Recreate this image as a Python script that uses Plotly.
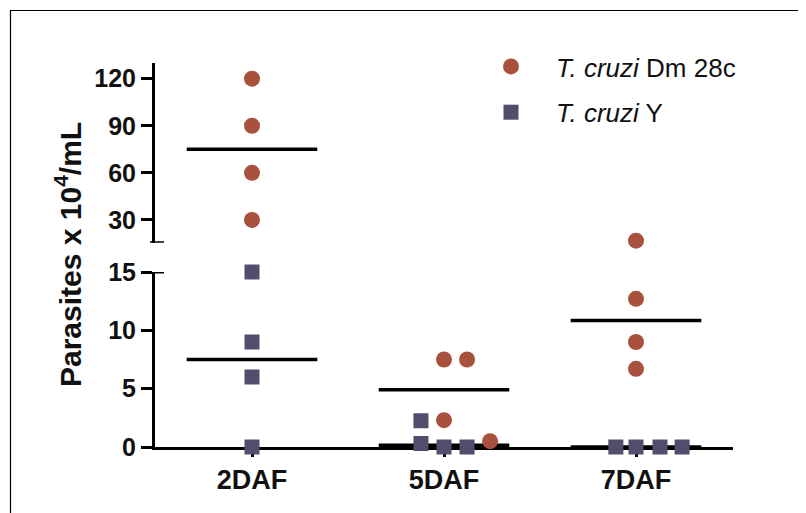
import numpy as np
import plotly.graph_objects as go

# ---------------- data ----------------
categories = ["2DAF", "5DAF", "7DAF"]

dm28c_name = "<i>T. cruzi</i> Dm 28c"
dm28c_values = [[120, 90, 60, 30], [7.5, 7.5, 2.3, 0.5], [16.8, 12.7, 9.0, 6.7]]
dm28c_jitter = [[0, 0, 0, 0], [0, 0.12, 0, 0.24], [0, 0, 0, 0]]

y_name = "<i>T. cruzi</i> Y"
y_values = [[15, 9, 6, 0], [2.25, 0.3, 0, 0], [0, 0, 0, 0]]
y_jitter = [[0, 0, 0, 0], [-0.12, -0.12, 0, 0.12], [-0.105, 0, 0.125, 0.24]]

lower_ticks = [0, 5, 10, 15]
upper_ticks = [30, 60, 90, 120]
break_value = 15          # values above this go on the upper segment
lower_range = [0, 15]
upper_range = [15.5, 130]

# ---------------- styles ----------------
RED = "#A8523E"
PURPLE = "#534C6C"
FONT = "Arial, Liberation Sans, Helvetica, sans-serif"
OFF = 8                      # page body margin in the browser
W, H = 806 - OFF, 513 - OFF
PL, PR, PT, PB = 155, 733, 63, 447   # plot area in page pixels
L, T = PL - OFF, PT - OFF
plot_w = PR - PL
plot_h = PB - PT
R = W - L - plot_w
B = H - T - plot_h
lower_dom = [0, 175 / plot_h]
upper_dom = [(PB - 242.7) / plot_h, 1]
half_w = 0.34


def split(values, jitter):
    lx, ly, ux, uy = [], [], [], []
    for i, (vals, offs) in enumerate(zip(values, jitter)):
        for v, o in zip(vals, offs):
            if v > break_value:
                ux.append(i + o); uy.append(v)
            else:
                lx.append(i + o); ly.append(v)
    return lx, ly, ux, uy


def median_lines(values):
    lx, ly, ux, uy = [], [], [], []
    for i, vals in enumerate(values):
        m = float(np.median(vals))
        if m > break_value:
            ux += [i - half_w, i + half_w, None]; uy += [m, m, None]
        else:
            lx += [i - half_w, i + half_w, None]; ly += [m, m, None]
    return lx, ly, ux, uy


fig = go.Figure()

# median lines
for vals in (dm28c_values, y_values):
    lx, ly, ux, uy = median_lines(vals)
    if lx:
        fig.add_trace(go.Scatter(x=lx, y=ly, mode="lines", line=dict(color="black", width=3.5),
                                 showlegend=False, hoverinfo="skip", xaxis="x", yaxis="y", cliponaxis=False))
    if ux:
        fig.add_trace(go.Scatter(x=ux, y=uy, mode="lines", line=dict(color="black", width=3.5),
                                 showlegend=False, hoverinfo="skip", xaxis="x", yaxis="y2", cliponaxis=False))

# points
for name, vals, jit, color, symbol, size, grp in (
        (dm28c_name, dm28c_values, dm28c_jitter, RED, "circle", 16, "a"),
        (y_name, y_values, y_jitter, PURPLE, "square", 15, "b")):
    lx, ly, ux, uy = split(vals, jit)
    marker = dict(color=color, symbol=symbol, size=size, line=dict(width=0))
    fig.add_trace(go.Scatter(x=lx, y=ly, mode="markers", marker=marker, name=name,
                             legendgroup=grp, xaxis="x", yaxis="y", cliponaxis=False))
    if ux:
        fig.add_trace(go.Scatter(x=ux, y=uy, mode="markers", marker=marker, name=name,
                                 legendgroup=grp, showlegend=False, xaxis="x", yaxis="y2",
                                 cliponaxis=False))

axis_common = dict(showline=True, linecolor="black", linewidth=3, ticks="outside",
                   tickcolor="black", tickwidth=3, showgrid=False, zeroline=False,
                   layer="below traces")

x_lo = -(252 - PL) / 192
x_hi = (PR - 252) / 192

fig.update_layout(
    width=W, height=H,
    margin=dict(l=L, r=R, t=T, b=B),
    paper_bgcolor="white", plot_bgcolor="white",
    font=dict(family=FONT, color="#111111"),
    xaxis=dict(domain=[0, 1], range=[x_lo, x_hi], tickvals=list(range(len(categories))),
               ticktext=categories, ticklen=7,
               tickfont=dict(size=27, family=FONT, weight="bold", color="#111111"),
               anchor="y", **axis_common),
    yaxis=dict(domain=lower_dom, range=lower_range, tickvals=lower_ticks, ticklen=11,
               tickfont=dict(size=25, family=FONT, weight="bold", color="#111111"),
               anchor="x", **axis_common),
    yaxis2=dict(domain=upper_dom, range=upper_range, tickvals=upper_ticks, ticklen=11,
                tickfont=dict(size=25, family=FONT, weight="bold", color="#111111"),
                anchor="x", **axis_common),
    legend=dict(x=(466 - PL) / plot_w, y=(PB - 43) / plot_h, xanchor="left", yanchor="top",
                bgcolor="rgba(0,0,0,0)",
                font=dict(size=26, family=FONT, color="#111111"), tracegroupgap=9,
                itemwidth=80),
    showlegend=True,
    annotations=[dict(text="Parasites x 10<sup>4</sup>/mL", xref="paper", yref="paper",
                      x=(68 - PL) / plot_w, y=0.5, xanchor="center", yanchor="middle",
                      textangle=-90, showarrow=False,
                      font=dict(size=30, family=FONT, weight="bold", color="#111111"))],
    shapes=[
        # axis-break caps
        dict(type="line", xref="paper", yref="y", x0=0, x1=9 / plot_w, y0=lower_range[1],
             y1=lower_range[1], line=dict(color="black", width=3)),
        dict(type="line", xref="paper", yref="y2", x0=-5 / plot_w, x1=9 / plot_w,
             y0=upper_range[0], y1=upper_range[0], line=dict(color="black", width=3)),
        # outer frame
        dict(type="rect", xref="paper", yref="paper", x0=(10.5 - PL) / plot_w,
             y0=-0.4, x1=1.3, y1=(PB - 10.5) / plot_h,
             line=dict(color="black", width=1.2), fillcolor="rgba(0,0,0,0)", layer="below"),
    ],
)

fig.write_html("out.html")
